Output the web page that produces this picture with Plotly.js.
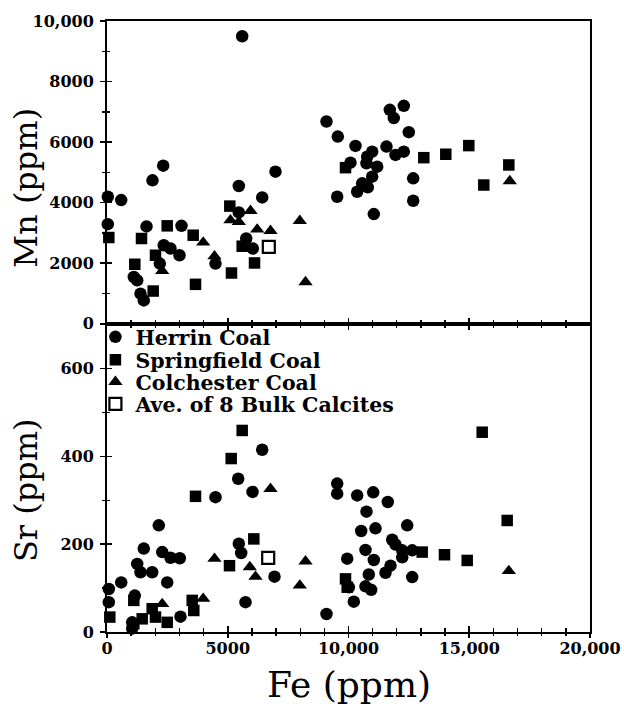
<!DOCTYPE html>
<html>
<head>
<meta charset="utf-8">
<script src="https://cdn.plot.ly/plotly-3.0.1.min.js"></script>
<style>html,body{margin:0;padding:0;background:#fff;}#chart{width:624px;height:704px;}</style>
</head>
<body>
<div id="chart"></div>
<script>
// ---- Data ----
// Top panel: Mn (ppm) vs Fe (ppm)
const herrinMnFe = [5598,9089,9557,9532,2327,1884,33,588,33,1636,3085,2352,2629,3002,2186,1110,1250,1387,1524,4493,5458,6427,6977,5458,5764,6037,10290,10083,10981,10774,11188,10745,10981,10567,10360,10799,11048,11573,11946,12290,11710,11876,12290,12497,12679,12679];
const herrinMn   = [9495,6679,6182,4194,5221,4738,4194,4085,3290,3214,3234,2594,2485,2263,1988,1544,1435,994,772,1988,4549,4174,5023,3677,2816,2485,5874,5321,5685,5519,5188,5301,4857,4638,4360,4506,3621,5851,5576,5685,7067,6792,7199,6328,4804,4062];
const springMnFe = [75,1429,2493,1151,1913,2008,3569,3665,5085,5155,5598,6108,9876,13118,14029,14981,16638,15602];
const springMn   = [2849,2816,3234,1965,1080,2263,2925,1302,3886,1676,2561,2008,5155,5486,5599,5884,5245,4582];
const colchMnFe  = [2286,3983,4451,5114,5458,5942,6219,6770,7983,8219,16679];
const colchMn    = [1743,2684,2230,3422,3366,3730,3114,3068,3399,1378,4714];
const calciteMnFe = [6700];
const calciteMn   = [2538];

// Bottom panel: Sr (ppm) vs Fe (ppm)
const herrinSrFe = [6427,5433,6025,4493,2145,1524,2286,2629,3014,1250,1387,1871,588,2493,75,75,1151,3043,1043,1043,5735,5458,5557,6936,9089,9532,9532,9946,10360,11023,11627,10745,10526,11118,12431,11809,11946,12224,12224,12638,10704,11048,11739,11532,10841,12638,10013,10704,10939,10220];
const herrinSr   = [415,349,319,307,243,190,182,169,168,155,136,136,113,113,98,68,83,35,22,8,68,201,180,126,41,338,315,167,311,318,296,274,230,236,243,210,199,186,170,186,187,164,151,135,131,125,102,104,96,69];
const springSrFe = [5598,5143,3665,6079,5072,116,1110,1871,2008,1458,1110,2493,3528,3594,9876,9946,15536,16571,13052,13975,14915];
const springSr   = [459,395,309,212,151,34,72,53,34,30,19,22,72,49,121,102,455,254,182,176,163];
const colchSrFe  = [6770,2286,3983,4451,5913,6149,8219,7983,16638];
const colchSr    = [326,64,76,167,148,126,161,106,139];
const calciteSrFe = [6675];
const calciteSr   = [169];

// Series names and tick labels
const seriesNames = ["Herrin Coal","Springfield Coal","Colchester Coal","Ave. of 8 Bulk Calcites"];
const feTickVals = [0,5000,10000,15000,20000];
const feTickText = ["0","5000","10,000","15,000","20,000"];
const mnTickVals = [0,2000,4000,6000,8000,10000];
const mnTickText = ["0","2000","4000","6000","8000","10,000"];
const srTickVals = [0,200,400,600];
const srTickText = ["0","200","400","600"];
const axisTitles = {mn:"Mn (ppm)", sr:"Sr (ppm)", fe:"Fe (ppm)"};

// ---- Styles ----
const serif = "DejaVu Serif";
const mk = {
  circle:{symbol:"circle",size:12.5,color:"#000",line:{width:0}},
  square:{symbol:"square",size:11.5,color:"#000",line:{width:0}},
  tri:{symbol:"triangle-up",size:12.5,color:"#000",line:{width:0}},
  open:{symbol:"square-open",size:12,color:"#000",line:{width:2.2,color:"#000"}}
};
function tr(x,y,m,name,xa,ya,show,leg){
  const t = {type:"scatter",mode:"markers",x:x,y:y,marker:m,name:name,xaxis:xa,yaxis:ya,
          showlegend:show,hoverinfo:"skip",cliponaxis:false};
  if (leg) t.legend = leg;
  return t;
}
const data = [
  tr(herrinMnFe,herrinMn,mk.circle,seriesNames[0],"x","y",true,"legend"),
  tr(springMnFe,springMn,mk.square,seriesNames[1],"x","y",true,"legend2"),
  tr(colchMnFe,colchMn,mk.tri,seriesNames[2],"x","y",true,"legend3"),
  tr(calciteMnFe,calciteMn,mk.open,seriesNames[3],"x","y",true,"legend4"),
  tr(herrinSrFe,herrinSr,mk.circle,seriesNames[0],"x2","y2",false),
  tr(springSrFe,springSr,mk.square,seriesNames[1],"x2","y2",false),
  tr(colchSrFe,colchSr,mk.tri,seriesNames[2],"x2","y2",false),
  tr(calciteSrFe,calciteSr,mk.open,seriesNames[3],"x2","y2",false),
  // empty helper traces so the overlay tick axes are drawn
  {type:"scatter",mode:"markers",x:[],y:[],xaxis:"x",yaxis:"y3",showlegend:false,hoverinfo:"skip"},
  {type:"scatter",mode:"markers",x:[],y:[],xaxis:"x2",yaxis:"y4",showlegend:false,hoverinfo:"skip"},
  {type:"scatter",mode:"markers",x:[],y:[],xaxis:"x3",yaxis:"y2",showlegend:false,hoverinfo:"skip"}
];

const tickFont = {family:serif,size:16,color:"#000",weight:"bold"};
const split = 0.5045;
const base = {showgrid:false,zeroline:false,fixedrange:true,tickcolor:"#000",linecolor:"#000"};

// legend rows (paper y) for the four entries
const legendFont = {family:serif,size:20.5,color:"#000",weight:"bold"};
function leg(y){
  return {x:-0.024,y:y,xanchor:"left",yanchor:"middle",bgcolor:"rgba(0,0,0,0)",borderwidth:0,
          font:legendFont,tracegroupgap:0,itemclick:false,itemdoubleclick:false};
}

const layout = {
  width:624,height:704,
  margin:{l:107,r:34,t:21,b:72,pad:0},
  paper_bgcolor:"#fff",plot_bgcolor:"#fff",
  showlegend:true,
  xaxis:Object.assign({},base,{domain:[0,1],anchor:"y",range:[0,20000],
    tickmode:"array",tickvals:feTickVals,showticklabels:false,ticks:"inside",ticklen:6,tickwidth:1.6,
    minor:{dtick:1000,ticks:"inside",ticklen:4,tickwidth:1.4,tickcolor:"#000"},
    showline:true,linewidth:2,mirror:true}),
  yaxis:Object.assign({},base,{domain:[split,1],anchor:"x",range:[0,10000],
    tickmode:"array",tickvals:mnTickVals,ticktext:mnTickText,tickfont:tickFont,
    ticks:"outside",ticklen:5,tickwidth:1.6,ticklabelstandoff:3,
    minor:{dtick:1000,ticks:"outside",ticklen:3,tickwidth:1.4,tickcolor:"#000"},
    showline:true,linewidth:2,mirror:true}),
  yaxis3:Object.assign({},base,{overlaying:"y",anchor:"x",side:"left",range:[0,10000],
    tickmode:"array",tickvals:mnTickVals,showticklabels:false,ticks:"inside",ticklen:5,tickwidth:1.6,
    minor:{dtick:1000,ticks:"inside",ticklen:3,tickwidth:1.4,tickcolor:"#000"},showline:false}),
  xaxis2:Object.assign({},base,{domain:[0,1],anchor:"y2",range:[0,20000],
    tickmode:"array",tickvals:feTickVals,ticktext:feTickText,tickfont:tickFont,
    ticks:"inside",ticklen:6,tickwidth:1.6,ticklabelstandoff:1,
    minor:{dtick:1000,ticks:"inside",ticklen:4,tickwidth:1.4,tickcolor:"#000"},
    showline:true,linewidth:2,mirror:"ticks"}),
  xaxis3:Object.assign({},base,{overlaying:"x2",anchor:"y2",side:"bottom",range:[0,20000],
    tickmode:"array",tickvals:feTickVals,showticklabels:false,ticks:"outside",ticklen:5,tickwidth:1.6,
    minor:{dtick:1000,ticks:"outside",ticklen:3,tickwidth:1.4,tickcolor:"#000"},showline:false}),
  yaxis2:Object.assign({},base,{domain:[0,split],anchor:"x2",range:[0,702],
    tickmode:"array",tickvals:srTickVals,ticktext:srTickText,tickfont:tickFont,
    ticks:"outside",ticklen:5,tickwidth:1.6,ticklabelstandoff:3,
    minor:{dtick:100,ticks:"outside",ticklen:3,tickwidth:1.4,tickcolor:"#000"},
    showline:true,linewidth:2,mirror:true}),
  yaxis4:Object.assign({},base,{overlaying:"y2",anchor:"x2",side:"left",range:[0,702],
    tickmode:"array",tickvals:srTickVals,showticklabels:false,ticks:"inside",ticklen:5,tickwidth:1.6,
    minor:{dtick:100,ticks:"inside",ticklen:3,tickwidth:1.4,tickcolor:"#000"},showline:false}),
  legend:leg(0.4828),
  legend2:leg(0.4452),
  legend3:leg(0.4092),
  legend4:leg(0.3732),
  annotations:[
    {text:axisTitles.mn,xref:"paper",yref:"paper",x:-0.168,y:0.727,xanchor:"center",yanchor:"middle",
     textangle:-90,showarrow:false,font:{family:serif,size:32,color:"#000"}},
    {text:axisTitles.sr,xref:"paper",yref:"paper",x:-0.168,y:0.232,xanchor:"center",yanchor:"middle",
     textangle:-90,showarrow:false,font:{family:serif,size:32,color:"#000"}},
    {text:axisTitles.fe,xref:"paper",yref:"paper",x:0.5,y:-0.086,xanchor:"center",yanchor:"middle",
     showarrow:false,font:{family:serif,size:36,color:"#000"}}
  ]
};

Plotly.newPlot("chart",data,layout,{staticPlot:true,displayModeBar:false});
</script>
</body>
</html>
